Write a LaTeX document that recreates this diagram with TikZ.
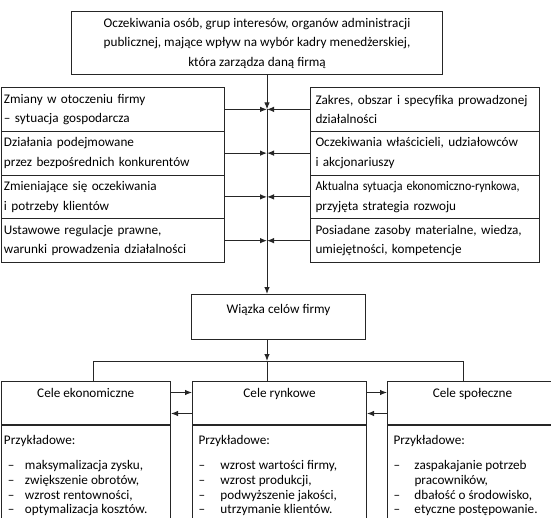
\documentclass[tikz,border=0pt]{standalone}
\usepackage{fontspec}
\setmainfont{Carlito}
\usetikzlibrary{arrows.meta}

\begin{document}
\begin{tikzpicture}[x=1pt,y=-1pt,line width=1pt,
				font=\fontsize{13.2}{19.5}\selectfont,
				box/.style={draw=black!85,rectangle,inner sep=0pt,anchor=north west},
				lbox/.style={box,text width=217pt,inner xsep=3pt,minimum height=43.75pt,align=left},
				rbox/.style={box,text width=219pt,inner xsep=5pt,minimum height=43.75pt,align=left},
				hbox/.style={box,text height=12pt,text depth=23pt,inner ysep=4pt,align=center},
				lista/.style={box,inner ysep=10pt,font=\fontsize{13.2}{14.8}\selectfont},
				arr/.style={draw=black!85,-{Latex[length=7pt,width=5.5pt]}}]
\useasboundingbox (0,0) rectangle (551,517);
\clip (0,0) rectangle (551,517);
% top
\node[box,minimum width=371pt,minimum height=63pt,align=center] (oczek) at (71,11)
	{Oczekiwania osób, grup interesów, organów administracji\\
	publicznej, mające wpływ na wybór kadry menedżerskiej,\\
	która zarządza daną firmą};
% left column
\node[lbox] (zmiany) at (0.5,87) {Zmiany w otoczeniu firmy\\– sytuacja gospodarcza};
\node[lbox] (dzialania) at (0.5,130.75) {Działania podejmowane\\przez bezpośrednich konkurentów};
\node[lbox] (klienci) at (0.5,174.5) {Zmieniające się oczekiwania\\i potrzeby klientów};
\node[lbox] (regulacje) at (0.5,218.25) {Ustawowe regulacje prawne,\\warunki prowadzenia działalności};
% right column
\node[rbox] (zakres) at (310,87) {Zakres, obszar i specyfika prowadzonej\\działalności};
\node[rbox] (wlasciciele) at (310,130.75) {Oczekiwania właścicieli, udziałowców\\i akcjonariuszy};
\node[rbox] (sytuacja) at (310,174.5) {\scalebox{0.91}[1]{Aktualna sytuacja ekonomiczno-rynkowa,}\\przyjęta strategia rozwoju};
\node[rbox] (zasoby) at (310,218.25) {Posiadane zasoby materialne, wiedza,\\umiejętności, kompetencje};
% goals
\node[box,minimum width=174pt,text height=12pt,text depth=19pt,inner ysep=7pt] (wiazka) at (191,294) {Wiązka celów firmy};
\node[hbox,minimum width=169.5pt] (ekon) at (0.5,381) {Cele ekonomiczne};
\node[hbox,minimum width=174pt] (rynk) at (192,381) {Cele rynkowe};
\node[hbox,minimum width=170pt] (spol) at (387,381) {Cele społeczne};
\node[lista,inner xsep=3pt] (ekonlista) at (ekon.south west) {\parbox[t][120pt][t]{163.5pt}{Przykładowe:\\[10pt]
	\hspace*{4pt}\makebox[17pt][l]{–}maksymalizacja zysku,\\
	\hspace*{4pt}\makebox[17pt][l]{–}zwiększenie obrotów,\\
	\hspace*{4pt}\makebox[17pt][l]{–}wzrost rentowności,\\
	\hspace*{4pt}\makebox[17pt][l]{–}optymalizacja kosztów.}};
\node[lista,inner xsep=6pt] (rynklista) at (rynk.south west) {\parbox[t][120pt][t]{162pt}{Przykładowe:\\[10pt]
	\makebox[22pt][l]{–}wzrost wartości firmy,\\
	\makebox[22pt][l]{–}wzrost produkcji,\\
	\makebox[22pt][l]{–}podwyższenie jakości,\\
	\makebox[22pt][l]{–}utrzymanie klientów.}};
\node[lista,inner xsep=6pt] (spollista) at (spol.south west) {\parbox[t][120pt][t]{158pt}{Przykładowe:\\[10pt]
	\makebox[21pt][l]{–}zaspakajanie potrzeb\\
	\hspace*{21pt}pracowników,\\
	\makebox[21pt][l]{–}dbałość o środowisko,\\
	\makebox[21pt][l]{–}etyczne postępowanie.}};
% connectors
\coordinate (pien) at (267,0);
\coordinate (szyna) at (0,361);
\coordinate (s1) at (93,361);
\coordinate (s3) at (463,361);
\draw[arr] (oczek.south -| pien) -- (zmiany.east -| pien);
\draw[arr] (zmiany.east -| pien) -- (wiazka.north -| pien);
\foreach \n in {zmiany,dzialania,klienci,regulacje}
	\draw[arr] (\n.east) -- (\n.east -| pien);
\foreach \n in {zakres,wlasciciele,sytuacja,zasoby}
	\draw[arr] (\n.west) -- (\n.west -| pien);
\draw[arr] (wiazka.south -| pien) -- (szyna -| pien);
\draw[draw=black!85] (s1) -- (s3);
\draw[draw=black!85] (s1) -- (s1 |- ekon.north);
\draw[draw=black!85] (szyna -| pien) -- (pien |- rynk.north);
\draw[draw=black!85] (s3) -- (s3 |- spol.north);
\draw[arr] ([yshift=10.5pt]ekon.east) -- ([yshift=10.5pt]rynk.west);
\draw[arr] ([yshift=-10.5pt]rynk.west) -- ([yshift=-10.5pt]ekon.east);
\draw[arr] ([yshift=10.5pt]rynk.east) -- ([yshift=10.5pt]spol.west);
\draw[arr] ([yshift=-10.5pt]spol.west) -- ([yshift=-10.5pt]rynk.east);
\end{tikzpicture}
\end{document}
